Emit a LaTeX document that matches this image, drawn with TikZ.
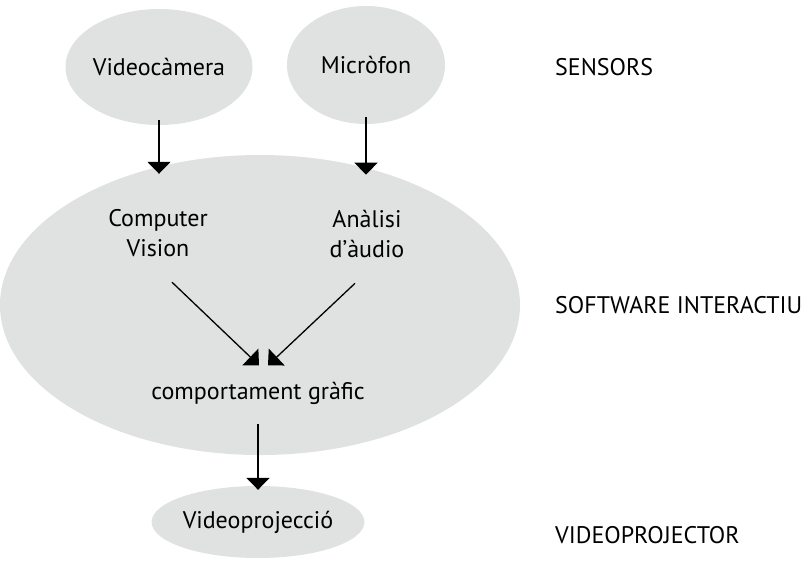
\documentclass[tikz,border=0pt]{standalone}
\usepackage{fontspec}
\setmainfont{PT Sans}
\usetikzlibrary{shapes.geometric,arrows.meta}
\definecolor{bubblegray}{RGB}{224,225,225}

\begin{document}
\begin{tikzpicture}[x=1pt, y=-1pt, >={Triangle[width=23pt,length=12pt]},
    bubble/.style={ellipse, fill=bubblegray, inner sep=0pt},
    txt/.style={font=\fontsize{24}{30}\selectfont, align=center},
    level/.style={font=\fontsize{24}{30}\selectfont, anchor=west, inner sep=0pt},
    flow/.style={->, line width=1.8pt},
    slant/.style={->, line width=1.3pt}]
    \useasboundingbox (0,0) rectangle (802,565);
    % Sensors
    \node[bubble, txt, minimum width=180pt, minimum height=116pt] (cam) at (159,67) {Videocàmera};
    \node[bubble, txt, minimum width=158pt, minimum height=118pt] (mic) at (366,65) {Micròfon};
    % Interactive software
    \node[bubble, minimum width=520pt, minimum height=300pt] (soft) at (260,305) {};
    \node[txt] (vision) at (158,233) {Computer\\Vision};
    \node[txt] (audio) at (367,234) {Anàlisi\\d’àudio};
    \node[txt] (grafic) at (258,393) {comportament gràfic};
    % Projection
    \node[bubble, txt, minimum width=212pt, minimum height=72pt] (proj) at (258,522) {Videoprojecció};
    % Levels
    \node[level] (lsens) at (555,67) {SENSORS};
    \node[level] (lsoft) at (555,305) {SOFTWARE INTERACTIU};
    \node[level] (lproj) at (555,535) {VIDEOPROJECTOR};
    % Arrows
    \draw[flow, shorten <=-5pt, shorten >=32pt] (cam.south) -- (cam.south |- vision.north);
    \draw[flow, shorten <=-7pt, shorten >=32pt] (mic.south) -- (mic.south |- audio.north);
    \draw[slant] ([xshift=14pt,yshift=-22pt]vision.south) -- ([xshift=1pt,yshift=13pt]grafic.north);
    \draw[slant] ([xshift=-12pt,yshift=-22pt]audio.south) -- ([xshift=10pt,yshift=13pt]grafic.north);
    \draw[flow, shorten <=16pt, shorten >=-4pt] (grafic.south) -- (proj.north);
\end{tikzpicture}
\end{document}
